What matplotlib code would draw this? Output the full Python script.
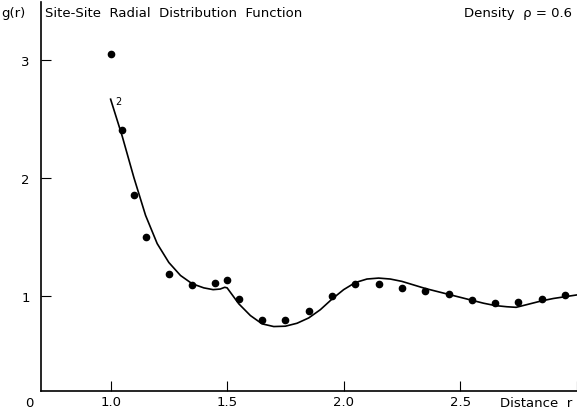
import matplotlib.pyplot as plt

# simulation points (dots)
r_sim = [1.00, 1.05, 1.10, 1.15, 1.25, 1.35, 1.45, 1.50, 1.55, 1.65, 1.75,
         1.85, 1.95, 2.05, 2.15, 2.25, 2.35, 2.45, 2.55, 2.65, 2.75, 2.85, 2.95]
g_sim = [3.05, 2.40, 1.85, 1.50, 1.18, 1.09, 1.11, 1.13, 0.97, 0.79, 0.79,
         0.865, 1.00, 1.10, 1.10, 1.065, 1.04, 1.01, 0.965, 0.94, 0.945, 0.97, 1.005]

# theory curve
r_th = [1.00, 1.05, 1.10, 1.15, 1.20, 1.25, 1.30, 1.35, 1.40, 1.44, 1.47, 1.49,
        1.50, 1.55, 1.60, 1.65, 1.70, 1.75, 1.80, 1.85, 1.90, 1.95, 2.00, 2.05,
        2.10, 2.15, 2.20, 2.25, 2.30, 2.35, 2.40, 2.45, 2.50, 2.55, 2.60, 2.65,
        2.70, 2.74, 2.80, 2.85, 2.90, 2.95, 3.00]
g_th = [2.665, 2.35, 2.00, 1.68, 1.44, 1.28, 1.17, 1.10, 1.065, 1.05, 1.055, 1.07,
        1.065, 0.93, 0.83, 0.76, 0.737, 0.74, 0.765, 0.81, 0.88, 0.97, 1.05, 1.11,
        1.14, 1.148, 1.14, 1.12, 1.09, 1.06, 1.035, 1.01, 0.985, 0.96, 0.935, 0.915,
        0.905, 0.90, 0.93, 0.955, 0.975, 0.99, 1.005]

x_ticks = [1.0, 1.5, 2.0, 2.5, 3.0]
x_labels = ["1.0", "1.5", "2.0", "2.5", ""]
y_ticks = [1, 2, 3]
y_labels = ["1", "2", "3"]


def main():
    fig = plt.figure(figsize=(5.77, 4.14), dpi=100)
    ax = fig.add_axes([0.0705, 0.053, 0.929, 0.94])

    ax.plot(r_th, g_th, color="black", lw=1.2)
    ax.plot(r_sim, g_sim, "o", color="black", ms=4.5)
    ax.text(1.02, 2.62, "2", fontsize=7)

    ax.set_xlim(0.70, 3.0)
    ax.set_ylim(0.19, 3.49)
    ax.spines["top"].set_visible(False)
    ax.spines["right"].set_visible(False)
    for s in ("left", "bottom"):
        ax.spines[s].set_linewidth(1.2)

    ax.set_xticks(x_ticks, x_labels)
    ax.set_yticks(y_ticks, y_labels)
    ax.tick_params(direction="in", length=7, width=0.8, labelsize=9.5)
    ax.tick_params(axis="x", pad=3)
    ax.tick_params(axis="y", pad=8)

    fig.text(0.003, 0.968, "g(r)", fontsize=9.5, va="center")
    fig.text(0.078, 0.968, "Site-Site  Radial  Distribution  Function",
             fontsize=9.5, va="center")
    fig.text(0.992, 0.968, "Density  ρ = 0.6", fontsize=9.5, va="center", ha="right")
    fig.text(0.992, 0.026, "Distance  r", fontsize=9.5, va="center", ha="right")
    fig.text(0.05, 0.026, "0", fontsize=9.5, va="center", ha="center")

    fig.savefig("out.png", dpi=100)


if __name__ == "__main__":
    main()
